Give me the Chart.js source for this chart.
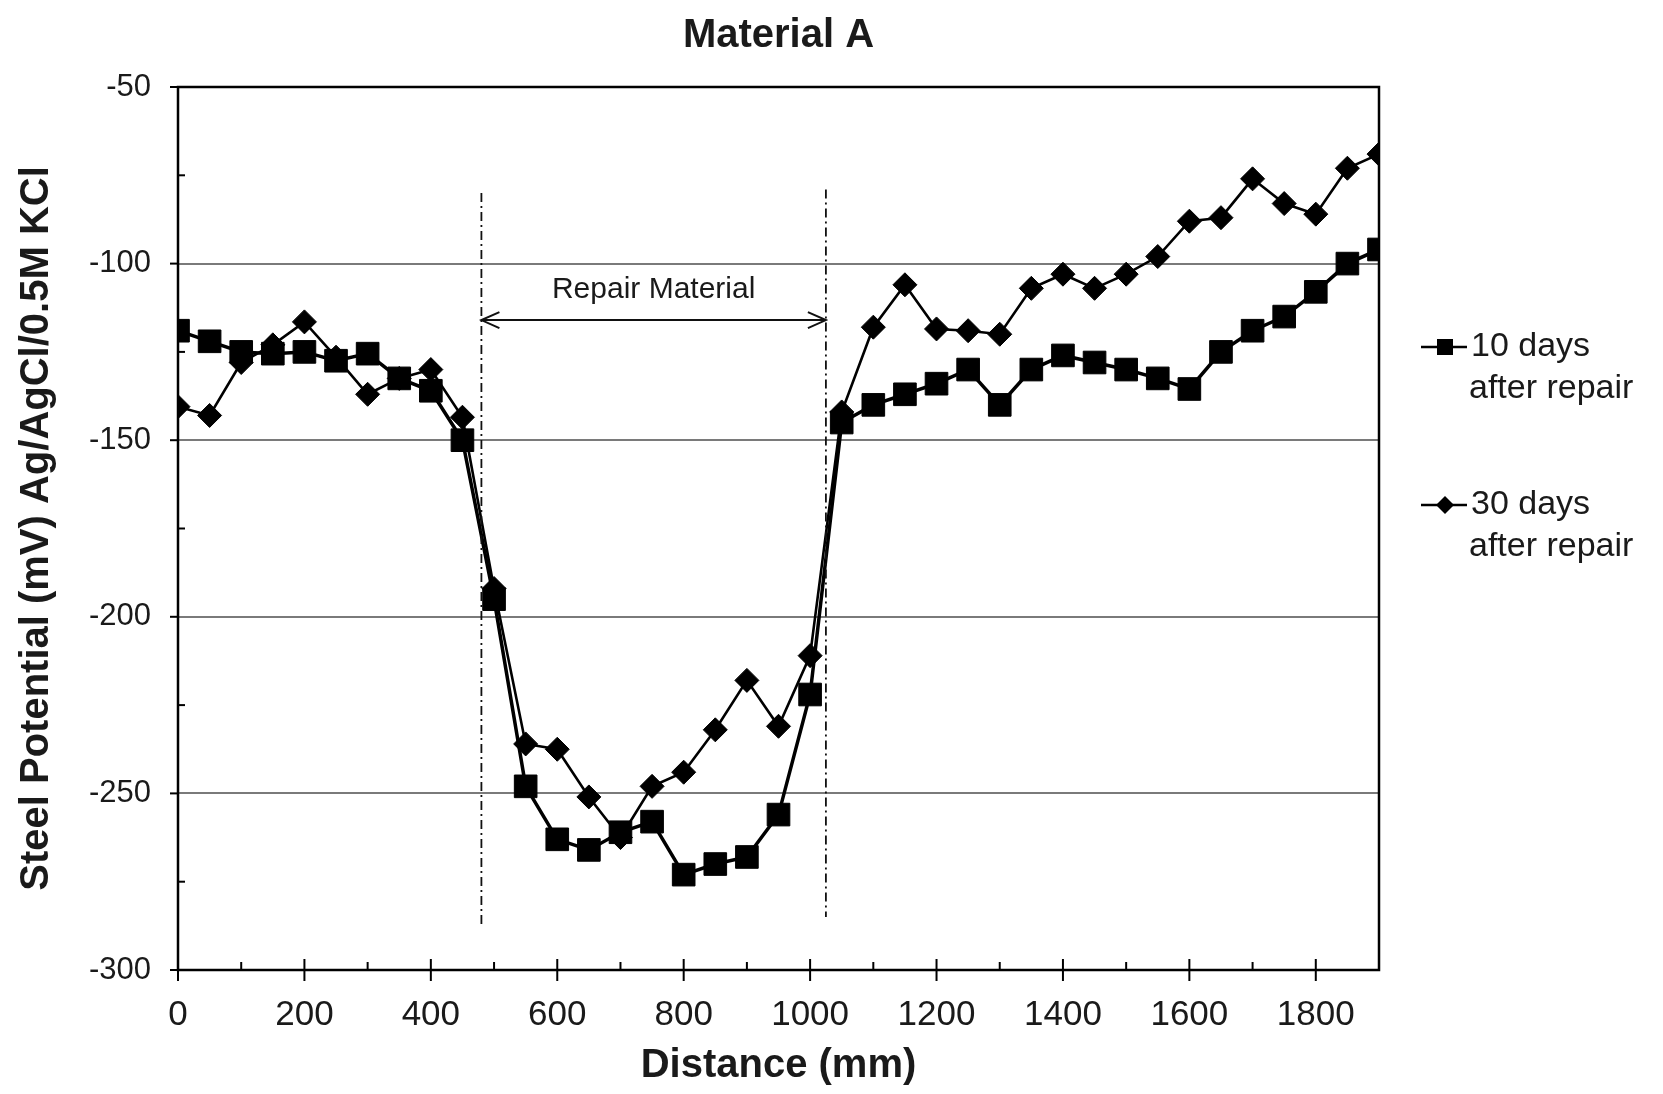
<!DOCTYPE html>
<html>
<head>
<meta charset="utf-8">
<script src="https://cdn.jsdelivr.net/npm/chart.js@4.4.1/dist/chart.umd.min.js"></script>
<style>
  html, body { margin: 0; padding: 0; background: #fff; }
  #wrap { width: 1663px; height: 1094px; }
</style>
</head>
<body>
<div id="wrap"><canvas id="potentialChart" width="1663" height="1094"></canvas></div>
<script>
// data
const distances = [0, 50, 100, 150, 200, 250, 300, 350, 400, 450, 500, 550, 600, 650, 700, 750, 800, 850, 900, 950,
    1000, 1050, 1100, 1150, 1200, 1250, 1300, 1350, 1400, 1450, 1500, 1550, 1600, 1650, 1700, 1750, 1800, 1850, 1900];
const tenDays = [-119, -122, -125, -125.5, -125, -127.5, -125.5, -132.5, -136, -150, -195, -248, -263, -266, -261, -258, -273, -270, -268, -256,
    -222, -145, -140, -137, -134, -130, -140, -130, -126, -128, -130, -132.5, -135.5, -125, -119, -115, -108, -100, -96];
const thirtyDays = [-140.5, -143, -128, -123, -116.5, -126.5, -137, -132.5, -130, -143.5, -192, -236, -237.5, -251, -262.5, -248, -244, -232, -218, -231,
    -211, -142, -118, -106, -118.5, -119, -120, -107, -103, -107, -103, -98, -88, -87, -76, -83, -86, -73, -69];
const seriesLabels = [['10 days', 'after repair'], ['30 days', 'after repair']];
const xTickLabels = [0, 200, 400, 600, 800, 1000, 1200, 1400, 1600, 1800];
const yTickLabels = [-50, -100, -150, -200, -250, -300];
const repairEdges = [480, 1025];     // dash-dot lines (mm)
const repairLineTop = [-80, -79];
const repairLineBottom = [-287, -285];
const arrowLevel = -116;
const repairText = 'Repair Material';

const FONT = "'Liberation Sans', Arial, sans-serif";
const INK = '#1a1a1a';

function points(vals) {
    return distances.map((d, i) => ({ x: d, y: vals[i] }));
}

// frame, tick marks, repair zone annotation, legend
const extras = {
    id: 'extras',
    afterDatasetsDraw(chart) {
        const ctx = chart.ctx;
        const a = chart.chartArea;
        const xs = chart.scales.x;
        const ys = chart.scales.y;
        ctx.save();

        // dash-dot lines
        ctx.strokeStyle = '#111';
        ctx.lineWidth = 1.8;
        ctx.setLineDash([9, 4, 2, 4]);
        repairEdges.forEach((e, i) => {
            const px = xs.getPixelForValue(e);
            ctx.beginPath();
            ctx.moveTo(px, ys.getPixelForValue(repairLineTop[i]));
            ctx.lineTo(px, ys.getPixelForValue(repairLineBottom[i]));
            ctx.stroke();
        });
        ctx.setLineDash([]);

        // double arrow
        const ay = ys.getPixelForValue(arrowLevel);
        const x1 = xs.getPixelForValue(repairEdges[0]);
        const x2 = xs.getPixelForValue(repairEdges[1]);
        ctx.lineWidth = 2;
        ctx.beginPath();
        ctx.moveTo(x1, ay); ctx.lineTo(x2, ay);
        ctx.moveTo(x1 + 18, ay - 8); ctx.lineTo(x1, ay); ctx.lineTo(x1 + 18, ay + 8);
        ctx.moveTo(x2 - 18, ay - 8); ctx.lineTo(x2, ay); ctx.lineTo(x2 - 18, ay + 8);
        ctx.stroke();

        ctx.fillStyle = INK;
        ctx.font = '30px ' + FONT;
        ctx.textAlign = 'center';
        ctx.textBaseline = 'middle';
        ctx.fillText(repairText, (x1 + x2) / 2, ay - 30);

        // plot frame
        ctx.strokeStyle = '#000';
        ctx.lineWidth = 2.5;
        ctx.strokeRect(a.left, a.top, a.right - a.left, a.bottom - a.top);

        // tick marks
        ctx.lineWidth = 2;
        xs.ticks.forEach(t => {
            const px = xs.getPixelForValue(t.value);
            ctx.beginPath();
            if (t.value % 200 === 0) {
                ctx.moveTo(px, a.bottom - 11); ctx.lineTo(px, a.bottom + 11);
            } else {
                ctx.moveTo(px, a.bottom - 8); ctx.lineTo(px, a.bottom);
            }
            ctx.stroke();
        });
        ys.ticks.forEach(t => {
            const py = ys.getPixelForValue(t.value);
            ctx.beginPath();
            if (t.value % 50 === 0) {
                ctx.moveTo(a.left - 8, py); ctx.lineTo(a.left, py);
            } else {
                ctx.moveTo(a.left, py); ctx.lineTo(a.left + 7, py);
            }
            ctx.stroke();
        });

        // legend
        const lx = a.right + 42;
        const rows = [a.top + 260, a.top + 418];
        chart.data.datasets.forEach((ds, i) => {
            const cy = rows[i];
            ctx.strokeStyle = '#000';
            ctx.lineWidth = 2.5;
            ctx.beginPath();
            ctx.moveTo(lx, cy); ctx.lineTo(lx + 46, cy);
            ctx.stroke();
            ctx.fillStyle = '#000';
            const mx = lx + 24;
            if (ds.pointStyle === 'rect') {
                ctx.fillRect(mx - 8, cy - 8, 16, 16);
            } else {
                ctx.beginPath();
                ctx.moveTo(mx - 9, cy); ctx.lineTo(mx, cy - 9); ctx.lineTo(mx + 9, cy); ctx.lineTo(mx, cy + 9);
                ctx.closePath(); ctx.fill();
            }
            ctx.fillStyle = INK;
            ctx.font = '34px ' + FONT;
            ctx.textAlign = 'left';
            seriesLabels[i].forEach((line, k) => {
                ctx.fillText(line, lx + 50 - (k ? 2 : 0), cy + k * 42);
            });
        });
        ctx.restore();
    }
};

new Chart(document.getElementById('potentialChart'), {
    type: 'line',
    data: {
        datasets: [{
            label: seriesLabels[0].join(' '),
            data: points(tenDays),
            borderColor: '#000',
            backgroundColor: '#000',
            borderWidth: 3.5,
            pointStyle: 'rect',
            pointRadius: 16,
            pointBorderWidth: 1,
            tension: 0
        }, {
            label: seriesLabels[1].join(' '),
            data: points(thirtyDays),
            borderColor: '#000',
            backgroundColor: '#000',
            borderWidth: 2.6,
            pointStyle: 'rectRot',
            pointRadius: 12,
            pointBorderWidth: 1,
            tension: 0
        }]
    },
    options: {
        responsive: false,
        animation: false,
        devicePixelRatio: 1,
        layout: { padding: { right: 284 } },
        plugins: {
            legend: { display: false },
            tooltip: { enabled: false },
            title: {
                display: true,
                text: 'Material A',
                fullSize: false,
                color: INK,
                font: { family: FONT, size: 40, weight: 'bold', lineHeight: 1.2 },
                padding: { top: 12, bottom: 27 }
            }
        },
        scales: {
            x: {
                type: 'linear',
                min: 0,
                max: 1900,
                afterFit: s => { s.height = 124; },
                border: { display: false },
                grid: { display: false, drawTicks: false },
                ticks: {
                    stepSize: 100,
                    autoSkip: false,
                    maxRotation: 0,
                    padding: 24,
                    color: INK,
                    font: { family: FONT, size: 35 },
                    callback: v => xTickLabels.includes(v) ? String(v) : ''
                },
                title: {
                    display: true,
                    text: 'Distance (mm)',
                    color: INK,
                    font: { family: FONT, size: 40, weight: 'bold', lineHeight: 1.2 },
                    padding: { top: 0, bottom: 4 }
                }
            },
            y: {
                min: -300,
                max: -50,
                afterFit: s => { s.width = 178; },
                border: { display: false },
                grid: {
                    drawTicks: false,
                    lineWidth: 2,
                    color: c => (c.tick.value % 50 === 0 && c.tick.value > -300 && c.tick.value < -50) ? '#7a7a7a' : 'rgba(0,0,0,0)'
                },
                ticks: {
                    stepSize: 25,
                    autoSkip: false,
                    padding: 27,
                    color: INK,
                    font: { family: FONT, size: 31 },
                    callback: v => yTickLabels.includes(v) ? String(v) : ''
                },
                title: {
                    display: true,
                    text: 'Steel Potential (mV) Ag/AgCl/0.5M KCl',
                    color: INK,
                    font: { family: FONT, size: 40, weight: 'bold', lineHeight: 1.2 },
                    padding: { top: 13, bottom: 0 }
                }
            }
        }
    },
    plugins: [extras]
});
</script>
</body>
</html>
